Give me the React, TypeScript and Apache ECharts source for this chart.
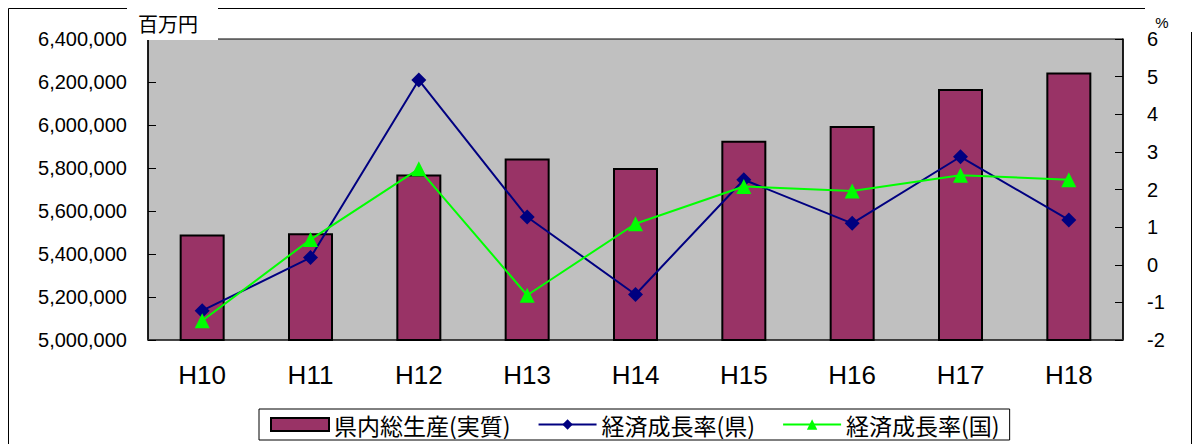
import React, { useEffect, useRef } from "react";
import * as echarts from "echarts";

const categories = ["H10", "H11", "H12", "H13", "H14", "H15", "H16", "H17", "H18"];
const gdpReal = [5491000, 5497000, 5770000, 5844000, 5800000, 5927000, 5995000, 6168000, 6244000];
const growthPref = [-1.22, 0.19, 4.91, 1.27, -0.79, 2.26, 1.1, 2.87, 1.19];
const growthNation = [-1.49, 0.67, 2.55, -0.81, 1.09, 2.08, 1.96, 2.38, 2.26];

const seriesNames = ["県内総生産(実質)", "経済成長率(県)", "経済成長率(国)"];
const leftUnit = "百万円";
const rightUnit = "%";

const LATIN = "'Liberation Sans', Arial, sans-serif";
const CJK = "'Noto Sans CJK JP', sans-serif";

export default function App() {
  const ref = useRef<HTMLDivElement>(null);
  useEffect(() => {
    if (!ref.current) return;
    const chart = echarts.init(ref.current, null, { renderer: "svg" });
    chart.setOption({
      animation: false,
      backgroundColor: "#ffffff",
      grid: {
        left: 148,
        top: 39,
        width: 975,
        height: 301,
        show: true,
        backgroundColor: "#c0c0c0",
        borderColor: "#000",
        borderWidth: 1,
      },
      legend: {
        left: 259,
        top: 409,
        padding: [4, 10, 4, 11],
        itemGap: 27,
        itemWidth: 58,
        itemHeight: 13,
        borderColor: "#000",
        borderWidth: 1,
        textStyle: { fontFamily: CJK, fontSize: 23, color: "#000" },
        data: [
          { name: seriesNames[0], icon: "rect" },
          { name: seriesNames[1] },
          { name: seriesNames[2] },
        ],
      },
      xAxis: {
        type: "category",
        data: categories,
        boundaryGap: true,
        axisLine: { onZero: false, lineStyle: { color: "#333", width: 1.5 } },
        axisTick: { inside: true, length: 8, interval: 0, lineStyle: { color: "#333" } },
        axisLabel: { margin: 22, fontSize: 26, fontFamily: LATIN, color: "#000" },
        splitLine: { show: false },
      },
      yAxis: [
        {
          type: "value",
          min: 5000000,
          max: 6400000,
          interval: 200000,
          position: "left",
          axisLine: { show: true, onZero: false, lineStyle: { color: "#000", width: 1.5 } },
          axisTick: { show: true, inside: true, length: 8, lineStyle: { color: "#000" } },
          axisLabel: {
            margin: 21,
            fontSize: 20,
            fontFamily: LATIN,
            color: "#000",
            formatter: (v: number) => v.toLocaleString("en-US"),
          },
          splitLine: { show: false },
        },
        {
          type: "value",
          min: -2,
          max: 6,
          interval: 1,
          position: "right",
          axisLine: { show: true, onZero: false, lineStyle: { color: "#000", width: 1.5 } },
          axisTick: { show: true, inside: true, length: 8, lineStyle: { color: "#000" } },
          axisLabel: { margin: 24, fontSize: 20, fontFamily: LATIN, color: "#000" },
          splitLine: { show: false },
        },
      ],
      series: [
        {
          name: seriesNames[0],
          type: "bar",
          yAxisIndex: 0,
          data: gdpReal,
          barWidth: 45,
          itemStyle: { color: "#993366", borderColor: "#000", borderWidth: 2 },
          z: 2,
        },
        {
          name: seriesNames[1],
          type: "line",
          yAxisIndex: 1,
          data: growthPref,
          symbol: "diamond",
          symbolSize: 15,
          itemStyle: { color: "#000080" },
          lineStyle: { color: "#000080", width: 2 },
          z: 3,
        },
        {
          name: seriesNames[2],
          type: "line",
          yAxisIndex: 1,
          data: growthNation,
          symbol: "triangle",
          symbolSize: 15,
          itemStyle: { color: "#00ff00" },
          lineStyle: { color: "#00ff00", width: 2 },
          z: 4,
        },
      ],
      graphic: [
        {
          type: "rect",
          z: 50,
          shape: { x: 8.5, y: 8.5, width: 1183, height: 500 },
          style: { fill: "none", stroke: "#000", lineWidth: 1 },
          silent: true,
        },
        {
          type: "rect",
          z: 60,
          shape: { x: 127, y: 0, width: 91, height: 40 },
          style: { fill: "#fff" },
          silent: true,
        },
        {
          type: "text",
          z: 70,
          x: 168,
          y: 23,
          style: {
            text: leftUnit,
            fontFamily: CJK,
            fontSize: 20,
            fill: "#000",
            align: "center",
            verticalAlign: "middle",
          },
        },
        {
          type: "rect",
          z: 60,
          shape: { x: 1145, y: 0, width: 48, height: 32 },
          style: { fill: "#fff" },
          silent: true,
        },
        {
          type: "text",
          z: 70,
          x: 1162,
          y: 22,
          style: {
            text: rightUnit,
            fontFamily: LATIN,
            fontSize: 15,
            fill: "#000",
            align: "center",
            verticalAlign: "middle",
          },
        },
      ],
    });
    return () => chart.dispose();
  }, []);
  return (
    <div
      ref={ref}
      style={{ position: "fixed", left: 0, top: 0, width: 1193, height: 444 }}
    />
  );
}
